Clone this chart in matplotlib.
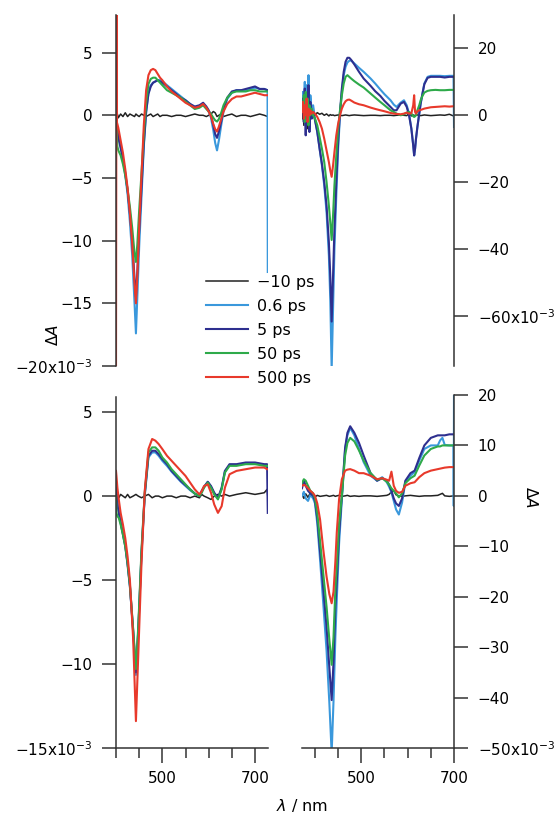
import matplotlib
matplotlib.use("Agg")
import matplotlib.pyplot as plt
from matplotlib.ticker import FixedLocator

# transient absorption spectra, dA in units of 1e-3
labels = ["\u221210 ps", "0.6 ps", "5 ps", "50 ps", "500 ps"]
colors = ["#222222", "#3a98dc", "#2e2f8f", "#2eaa4a", "#e8392b"]

# ---- top left ----
tl_wl = [400, 401, 401.5, 403, 405, 410, 415, 420, 425, 430, 435, 440, 443, 446, 450, 455, 460, 465,
         470, 475, 480, 485, 490, 495, 500, 510, 520, 530, 540, 550, 560, 570, 580, 588, 595, 600,
         605, 610, 614, 618, 622, 627, 632, 640, 650, 660, 670, 680, 690, 700, 710, 720, 727, 727.5]
tl_m10 = [0.0, 0.3, -0.2, 0.1, -0.2, 0.1, -0.1, 0.2, -0.1, 0.1, 0.0, -0.1, 0.1, 0.0, -0.1, 0.1, 0.0, -0.1,
          0.0, 0.1, -0.1, 0.0, 0.1, -0.1, 0.0, 0.0, -0.1, 0.0, 0.0, -0.1, 0.0, 0.1, 0.0, 0.0, -0.1, 0.0,
          0.1, 0.3, 0.2, -0.1, 0.0, 0.1, -0.1, 0.0, 0.1, -0.1, 0.0, 0.0, -0.1, 0.0, 0.1, 0.0, -0.1, 0.0]
tl_06 = [2.5, 1.0, -1.0, -0.9, -1.5, -2.5, -3.5, -4.8, -6.3, -8.5, -11.2, -15.0, -17.4, -14.5, -10.5, -6.5, -2.5, 0.2,
         1.8, 2.4, 2.6, 2.7, 2.8, 2.8, 2.7, 2.4, 2.1, 1.8, 1.5, 1.2, 0.9, 0.6, 0.7, 0.9, 0.6, 0.3,
         -0.2, -1.2, -2.2, -2.8, -2.0, -0.8, 0.3, 1.3, 1.8, 2.0, 2.0, 2.0, 2.1, 2.2, 2.1, 2.1, 2.0, -12.5]
tl_5 = [1.0, 0.0, -1.0, -1.2, -1.8, -2.6, -3.5, -4.6, -6.0, -7.8, -10.0, -13.0, -14.5, -12.5, -9.2, -5.8, -2.3, 0.3,
        1.7, 2.3, 2.6, 2.7, 2.8, 2.7, 2.6, 2.3, 2.0, 1.7, 1.4, 1.2, 0.9, 0.7, 0.8, 1.0, 0.7, 0.4,
        0.0, -0.8, -1.5, -1.8, -1.3, -0.5, 0.5, 1.4, 1.9, 2.0, 2.0, 2.1, 2.2, 2.3, 2.1, 2.1, 2.0, 2.0]
tl_50 = [4.5, 1.0, -1.5, -2.5, -2.8, -3.2, -3.9, -4.8, -5.9, -7.3, -9.0, -11.0, -11.7, -10.3, -7.6, -4.6, -1.6, 1.0,
         2.5, 2.9, 3.0, 3.0, 2.8, 2.6, 2.4, 2.0, 1.8, 1.6, 1.4, 1.1, 0.8, 0.5, 0.6, 0.8, 0.5, 0.3,
         0.1, -0.2, -0.4, -0.5, -0.3, 0.2, 0.8, 1.4, 1.8, 1.9, 1.9, 1.9, 2.0, 2.0, 1.9, 1.9, 1.9, 1.9]
tl_500 = [-21.0, 9.0, -0.5, -0.7, -1.0, -2.0, -3.0, -4.3, -5.8, -7.8, -10.2, -13.5, -15.0, -12.8, -9.0, -4.8, -0.8, 2.0,
          3.2, 3.6, 3.7, 3.6, 3.3, 3.0, 2.8, 2.3, 1.9, 1.6, 1.3, 1.0, 0.8, 0.6, 0.7, 0.9, 0.6, 0.3,
          -0.1, -0.7, -1.1, -1.3, -0.9, -0.3, 0.3, 0.9, 1.3, 1.5, 1.5, 1.6, 1.7, 1.8, 1.7, 1.6, 1.6, 1.6]

# ---- top right ----
tr_wl = [372, 374, 376, 378, 380, 382, 384, 386, 388, 390, 393, 396, 400, 405, 410, 415, 420, 425, 430, 433,
         436, 439, 442, 446, 450, 454, 458, 462, 466, 470, 474, 478, 485, 495, 505, 520, 530, 541, 550, 563,
         570, 576, 585, 592, 598, 603, 608, 612, 614, 616, 618, 621, 625, 628, 632, 636, 643, 650, 660, 670,
         680, 690, 699, 700]
tr_m10 = [-1, 2, -3, 1, -2, 2, -4, 1, -1, 0.5, -0.3, 0.5, 0, 0.8, 0.3, 0.6, 0, 0.4, -0.2, 0.2,
          0, 0.1, -0.1, 0, 0.1, 0, -0.1, 0, 0.1, 0, -0.1, 0, 0.1, 0, -0.1, 0, 0, -0.1, 0, 0,
          -0.1, 0, 0.1, 0, -0.1, 0.5, -0.2, 0.1, 0, -0.1, 0, 0.1, 0, -0.1, 0, 0.1, 0, -0.1, 0, 0.1,
          0, 0.3, -0.2, 0]
tr_06 = [3, 7, 1, 10, -3, 9, 2, 12, -4, 6, 1, 3, -1, -5, -10, -15, -21, -29, -42, -55,
         -76, -58, -40, -24, -10, 0, 7, 12, 14.5, 15.8, 16.3, 16.4, 15.5, 14.2, 13, 11, 9.5, 7.7, 6.3, 4.5,
         3.2, 2.5, 3.8, 4.5, 3.0, 0.5, -4, -9, -12, -10, -7, -3.5, 0.5, 3.5, 6.5, 9.5, 11.5, 11.8, 11.8, 11.8,
         11.7, 11.8, 11.8, -3.5]
tr_5 = [2, 5, -2, 8, -6, 6, 0, 9, -5, 4, -1, 1, -1.5, -5, -10, -14.5, -20, -27, -38, -48,
        -61.7, -48, -34, -20, -8, 1, 8, 13, 16, 17.2, 17.2, 16.6, 15.2, 13, 11, 8.8, 7.2, 5.8, 4.3, 2.5,
        1.5, 1.5, 3.5, 4.0, 2.5, 0.0, -4, -9, -12, -10, -7, -3.5, 0.5, 3.5, 6.5, 9.3, 11.2, 11.5, 11.5, 11.5,
        11.3, 11.5, 11.5, 11.5]
tr_50 = [4, 1, 6, -2, 7, 0, 5, -3, 3, 0, 2, 0, -1, -3, -6.5, -10, -14, -20, -27, -32,
         -37.3, -30, -21, -12, -4, 1.5, 6, 9.5, 11.5, 12, 11.5, 11, 10.2, 9.2, 8.3, 6.5, 5.3, 4, 3, 1.5,
         1, 0.5, 0, 0.3, 0.8, 1, 0.5, -0.3, -0.5, -0.3, 0, 1.5, 3, 4.5, 5.8, 6.8, 7.3, 7.5, 7.6, 7.5,
         7.5, 7.6, 7.6, 7.6]
tr_500 = [1, 4, -1, 3, 0, 5, -2, 2, 0, 1.5, 0.5, 1, 0.5, -0.5, -2, -4, -7, -10.5, -14, -16.5,
          -18.4, -15, -11, -6, -2.5, 0, 2, 3.3, 4.2, 4.6, 4.7, 4.4, 3.8, 3.3, 3.0, 2.3, 1.9, 1.5, 1.2, 0.7,
          0.5, 0.4, 0.3, 0.5, 0.8, 0.5, 0.6, 3.0, 6.0, 1.0, 0.5, 1.2, 1.5, 1.6, 1.8, 2.0, 2.2, 2.4, 2.5, 2.6,
          2.7, 2.6, 2.7, 2.7]

# ---- bottom left ----
bl_wl = [400, 401, 403, 406, 410, 415, 420, 425, 430, 437, 443, 448, 455, 462, 470, 478, 485, 492, 500, 510,
         520, 530, 540, 550, 560, 570, 580, 585, 590, 598, 605, 612, 620, 628, 635, 645, 660, 680, 700, 720,
         726, 727.5]
bl_m10 = [0.5, -0.3, 0.2, -0.1, 0.1, 0.0, -0.1, 0.1, -0.1, 0.0, 0.1, 0.0, -0.1, 0.0, 0.1, -0.1, 0.0, 0.0, -0.1, 0.0,
          0.0, -0.1, 0.0, 0.0, -0.1, 0.0, -0.1, 0.1, 0.0, -0.1, -0.2, 0.0, 0.1, 0.0, 0.1, 0.0, 0.1, 0.2, 0.1, 0.2,
          0.4, 0.0]
bl_06 = [0.5, 0.8, -0.3, -0.8, -1.5, -2.2, -2.9, -4.0, -5.3, -8.1, -10.65, -8.1, -3.5, 0.0, 2.3, 2.6, 2.6, 2.4, 2.1, 1.8,
         1.45, 1.15, 0.85, 0.6, 0.35, 0.15, 0.0, 0.3, 0.55, 0.85, 0.55, 0.15, -0.15, 0.45, 1.45, 1.85, 1.85, 1.95, 1.95, 1.85,
         1.8, 1.8]
bl_5 = [0.3, 0.5, -0.5, -1.0, -1.6, -2.3, -3.0, -4.1, -5.4, -8.0, -10.5, -8.0, -3.4, 0.1, 2.4, 2.7, 2.7, 2.5, 2.2, 1.9,
        1.5, 1.2, 0.9, 0.65, 0.4, 0.15, 0.0, 0.3, 0.55, 0.85, 0.6, 0.2, -0.1, 0.5, 1.5, 1.9, 1.9, 2.0, 2.0, 1.9,
        1.9, -1.0]
bl_50 = [0.0, -1.0, -1.2, -1.3, -1.7, -2.3, -3.0, -4.0, -5.3, -7.9, -10.3, -7.8, -3.2, 0.2, 2.6, 2.9, 2.9, 2.7, 2.3, 2.0,
         1.6, 1.3, 1.0, 0.7, 0.4, 0.15, 0.0, 0.2, 0.5, 0.8, 0.5, 0.1, -0.2, 0.4, 1.4, 1.8, 1.8, 1.9, 1.9, 1.8,
         1.8, 1.8]
bl_500 = [1.5, 1.2, 0.5, -0.2, -1.0, -1.7, -2.5, -3.6, -5.0, -8.5, -13.4, -9.5, -4.0, 0.3, 2.8, 3.4, 3.3, 3.1, 2.8, 2.4,
          2.1, 1.8, 1.5, 1.2, 0.8, 0.4, 0.1, 0.3, 0.6, 0.7, 0.2, -0.5, -1.0, -0.6, 0.5, 1.3, 1.5, 1.6, 1.7, 1.7,
          1.6, 1.6]

# ---- bottom right ----
br_wl = [372, 376, 380, 385, 390, 396, 400, 405, 411, 418, 425, 431, 436, 440, 444, 447, 452, 458, 465, 470,
         476, 485, 495, 505, 520, 534, 545, 555, 560, 565, 570, 575, 581, 588, 595, 606, 615, 625, 636, 650,
         665, 670, 675, 680, 690, 699, 699.5, 700]
br_m10 = [0.3, -0.5, 0.4, -0.3, 0.6, 0.1, -0.2, 0.1, -0.1, 0.0, 0.1, -0.1, 0.0, 0.1, -0.1, 0.0, 0.1, -0.1, 0.0, 0.1,
          -0.1, 0.0, -0.1, 0.0, 0.0, -0.1, 0.0, 0.1, 0.3, 0.8, 1.0, 0.2, 0.0, -0.1, 0.0, 0.1, 0.0, -0.1, 0.0, 0.0,
          0.1, 0.3, 0.5, 0.0, -0.1, 0.0, -0.2, -0.2]
br_06 = [0.0, 0.8, -0.5, -1.0, 0.2, -0.5, -1.5, -5.5, -12.7, -21.5, -30.7, -41.0, -51.0, -40.7, -28.0, -20.7, -9.5, -0.7, 9.3, 12.0,
         13.5, 12.0, 9.3, 6.7, 4.0, 3.0, 3.7, 2.7, 1.8, 0.7, -1.0, -2.7, -3.7, -1.3, 2.7, 4.0, 4.7, 7.0, 9.3, 10.0,
         10.0, 11.0, 11.5, 10.1, 10.0, 10.0, -2.0, 22.0]
br_5 = [1.5, 3.0, 2.0, 1.0, 0.5, 0.0, -1.0, -4.5, -11.0, -18.5, -26.0, -34.0, -40.5, -33.0, -22.0, -17.0, -7.5, 0.0, 9.5, 12.5,
        13.8, 12.5, 10.5, 8.0, 4.5, 3.0, 3.5, 3.0, 2.2, 1.0, -0.5, -1.5, -2.0, -0.5, 3.0, 4.5, 5.0, 7.5, 10.0, 11.5,
        12.0, 12.0, 12.0, 12.0, 12.2, 12.2, 12.2, 12.2]
br_50 = [2.5, 3.3, 3.0, 2.0, 1.0, 0.5, -0.5, -3.5, -9.0, -15.5, -22.0, -28.5, -33.5, -28.0, -18.5, -14.0, -5.5, 0.0, 8.0, 10.5,
         11.5, 10.8, 9.0, 7.0, 4.5, 3.2, 3.5, 2.8, 2.2, 1.5, 1.0, 0.5, -0.3, 0.5, 2.5, 3.5, 4.0, 6.0, 8.0, 9.3,
         9.8, 9.8, 10.0, 10.0, 10.0, 10.0, 10.0, 10.0]
br_500 = [2.0, 2.2, 2.0, 1.5, 1.0, 0.5, 0.0, -1.5, -4.7, -10.7, -16.0, -19.5, -21.3, -19.0, -13.0, -7.3, -0.7, 3.3, 5.0, 5.2,
          5.3, 5.0, 4.5, 4.5, 4.0, 3.3, 3.5, 3.2, 3.0, 4.8, 2.0, 1.0, 0.6, 0.8, 2.0, 2.5, 2.7, 3.7, 4.5, 5.0,
          5.3, 5.4, 5.5, 5.6, 5.7, 5.7, 5.7, 5.7]

M = "\u2212"
tl_ticks = [-20, -15, -10, -5, 0, 5]
tl_ticklabels = [M + "20x10$^{" + M + "3}$", M + "15", M + "10", M + "5", "0", "5"]
tr_ticks = [-60, -40, -20, 0, 20]
tr_ticklabels = [M + "60x10$^{" + M + "3}$", M + "40", M + "20", "0", "20"]
bl_ticks = [-15, -10, -5, 0, 5]
bl_ticklabels = [M + "15x10$^{" + M + "3}$", M + "10", M + "5", "0", "5"]
br_ticks = [-50, -40, -30, -20, -10, 0, 10, 20]
br_ticklabels = [M + "50x10$^{" + M + "3}$", M + "40", M + "30", M + "20", M + "10", "0", "10", "20"]

x_major = [500, 700]
x_minor = [400, 450, 550, 600, 650]

plt.rcParams["font.family"] = "DejaVu Sans"
plt.rcParams["font.size"] = 11

W, H = 559, 817
fig = plt.figure(figsize=(W / 100, H / 100), dpi=100)


def box(l, t, r, b):
    return [l / W, 1 - b / H, (r - l) / W, (b - t) / H]


def panel(rect, wl, series, xlim, ylim, ticks, ticklabels, side, bottom):
    ax = fig.add_axes(rect)
    lines = []
    for ys, c, lab in zip(series, colors, labels):
        lw = 1.1 if c == "#222222" else 1.5
        ln, = ax.plot(wl, ys, color=c, lw=lw, label=lab)
        lines.append(ln)
    ax.set_xlim(*xlim)
    ax.set_ylim(*ylim)
    for s in ["top", "left", "right", "bottom"]:
        ax.spines[s].set_visible(False)
    ax.spines[side].set_visible(True)
    ax.spines[side].set_linewidth(1.1)
    ax.spines[side].set_color("#333333")
    ax.yaxis.set_ticks_position(side)
    ax.set_yticks(ticks)
    ax.set_yticklabels(ticklabels)
    ax.tick_params(axis="y", direction="out", length=10, width=1.1, pad=7, color="#333333")
    if bottom:
        ax.spines["bottom"].set_visible(True)
        ax.spines["bottom"].set_linewidth(1.1)
        ax.spines["bottom"].set_color("#333333")
        ax.xaxis.set_major_locator(FixedLocator(x_major))
        ax.xaxis.set_minor_locator(FixedLocator(x_minor))
        ax.tick_params(axis="x", which="major", direction="out", length=10.5, width=1.1, pad=6, color="#333333")
        ax.tick_params(axis="x", which="minor", direction="out", length=7, width=1.1, color="#333333")
    else:
        ax.set_xticks([])
    ax.patch.set_alpha(0)
    return ax, lines


ax_tl, leg_lines = panel(box(116, 15, 268, 366), tl_wl, [tl_m10, tl_06, tl_5, tl_50, tl_500],
                         (400, 728), (-20, 8), tl_ticks, tl_ticklabels, "left", False)
ax_tr, _ = panel(box(302, 15, 454, 366), tr_wl, [tr_m10, tr_06, tr_5, tr_50, tr_500],
                 (372, 700), (-75, 30), tr_ticks, tr_ticklabels, "right", False)
ax_bl, _ = panel(box(116, 397, 268, 748), bl_wl, [bl_m10, bl_06, bl_5, bl_50, bl_500],
                 (400, 728), (-15, 5.9), bl_ticks, bl_ticklabels, "left", True)
ax_br, _ = panel(box(302, 395, 454, 748), br_wl, [br_m10, br_06, br_5, br_50, br_500],
                 (372, 700), (-50, 20), br_ticks, br_ticklabels, "right", True)

fig.legend(leg_lines, labels, loc="upper left", bbox_to_anchor=(206 / W, 1 - 275 / H),
           frameon=False, borderpad=0, borderaxespad=0, handlelength=2.6, handletextpad=0.6,
           labelspacing=0.56, fontsize=11.5)

fig.text(53 / W, 1 - 335 / H, "$\\Delta A$", rotation=90, ha="center", va="center", fontsize=11)
fig.text(531 / W, 1 - 497 / H, "$\\Delta A$", rotation=270, ha="center", va="center", fontsize=11)
fig.text(302 / W, 1 - 805 / H, "$\\lambda$ / nm", ha="center", va="center", fontsize=11.5)

fig.savefig("out.png", dpi=100)
